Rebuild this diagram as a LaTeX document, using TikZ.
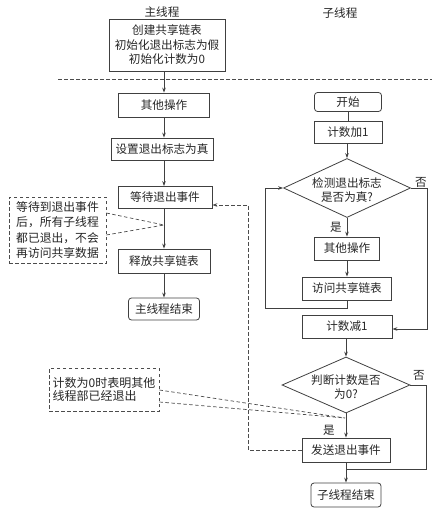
\documentclass[tikz,border=0pt]{standalone}
\usepackage{fontspec}
\setmainfont{Noto Sans CJK SC}
\usetikzlibrary{shapes.geometric,arrows.meta}
\newcommand{\lowertext}[1]{\raisebox{-6.5pt}[0pt][0pt]{\begin{tabular}{@{}c@{}}#1\end{tabular}}}
\begin{document}
\begin{tikzpicture}[x=1pt,y=-1pt,
  every node/.style={font=\fontsize{11.6pt}{14.5pt}\selectfont, text=black!85},
  box/.style={draw=black!75, line width=0.8pt, inner sep=0pt, align=center},
  rbox/.style={box, rounded corners=3pt},
  dia/.style={draw=black!75, line width=0.8pt, diamond, inner sep=0pt, aspect=2.15},
  note/.style={draw=black!70, dashed, line width=0.7pt, inner sep=0pt, dash pattern=on 3.5pt off 2.5pt},
  flow/.style={draw=black!75, line width=0.8pt},
  arr/.style={flow, -{Stealth[length=5pt,width=3.6pt]}},
  dline/.style={draw=black!70, line width=0.7pt, dash pattern=on 3.5pt off 2.5pt},
  lbl/.style={inner sep=0pt},
]
\useasboundingbox (0,0) rectangle (438,513);

% titles
\node[lbl] (t1) at (162,12) {主线程};
\node[lbl] (t2) at (340,13) {子线程};

% main thread
\node[box, minimum width=116pt, minimum height=52pt] (init) at (167,45)
  {创建共享链表\\初始化退出标志为假\\初始化计数为0};
\draw[dline] (58,79) -- (432,79);

\node[box, minimum width=91pt, minimum height=24pt] (other1) at (164,105) {其他操作};
\node[box, minimum width=102pt, minimum height=22pt] (setflag) at (162,149) {设置退出标志为真};
\node[box, minimum width=94pt, minimum height=22pt] (wait) at (165,197.5) {等待退出事件};
\node[box, minimum width=92pt, minimum height=24pt] (release) at (164,261) {释放共享链表};
\node[rbox, minimum width=71pt, minimum height=22pt] (mainend) at (164,309) {主线程结束};

\draw[arr] (init.south -| other1.north) -- (other1.north);
\draw[arr] (other1.south) -- (other1.south |- setflag.north);
\draw[arr] (other1.south |- setflag.south) -- (other1.south |- wait.north);
\draw[arr] (other1.south |- wait.south) -- (other1.south |- release.north);
\draw[arr] (other1.south |- release.south) -- (other1.south |- mainend.north);

% note 1
\node[note, minimum width=97pt, minimum height=66pt, align=left,
  font=\fontsize{11.8pt}{15.5pt}\selectfont] (note1) at (57.5,230)
  {等待到退出事件\\后，所有子线程\\都已退出，不会\\再访问共享数据};
\coordinate (j1) at (164,225);
\draw[dline] ([yshift=17pt]note1.east) -- (j1);
\draw[dline] ([yshift=-5pt]note1.east) -- (j1);

% sub thread
\node[rbox, minimum width=67pt, minimum height=19pt] (start) at (348,102) {开始};
\node[box, minimum width=68pt, minimum height=22pt] (inc) at (348,132) {计数加1};
\node[dia, minimum width=127pt, minimum height=59pt] (dia1) at (347,188) {\lowertext{检测退出标志\\是否为真?}};
\node[box, minimum width=65pt, minimum height=23pt] (other2) at (347,248.5) {其他操作};
\node[box, minimum width=89pt, minimum height=23pt] (access) at (347,288.5) {访问共享链表};
\node[box, minimum width=90pt, minimum height=23pt] (dec) at (347,326.5) {计数减1};
\node[dia, minimum width=128pt, minimum height=56pt] (dia2) at (346,385) {\lowertext{判断计数是否\\为0?}};
\node[box, minimum width=88pt, minimum height=24pt] (send) at (346,450) {发送退出事件};
\node[rbox, minimum width=70pt, minimum height=24pt] (subend) at (346,495) {子线程结束};

\draw[flow] (start.south -| inc.north) -- (inc.north);
\draw[arr] (inc.south -| dia1.north) -- (dia1.north);
\draw[arr] (dia1.south) -- (other2.north);
\draw[arr] (other2.south) -- (access.north);
\coordinate (lp1) at (265,308);
\draw[arr] (access.south) |- (lp1) |- (dia1.west);
\coordinate (rp1) at (427,188);
\draw[arr] (dia1.east) -- (rp1) |- ([yshift=-2.5pt]dec.east);
\draw[arr] (dec.south -| dia2.north) -- (dia2.north);
\draw[arr] (dia2.south) -- (send.north);
\coordinate (rp2) at (426,469);
\draw[flow] (dia2.east) -| (rp2) -- (send.south |- rp2);
\draw[arr] (send.south) -- (subend.north);

\node[lbl] (no1) at (421,182) {否};
\node[lbl] (yes1) at (336,227) {是};
\node[lbl] (no2) at (419,375) {否};
\node[lbl] (yes2) at (329,430) {是};

% dashed event signal
\coordinate (dv1) at (248,205);
\draw[dline, -{Stealth[length=5pt,width=3.6pt]}] (send.west) -| (dv1) -- (wait.east |- dv1);

% note 2
\node[note, minimum width=110pt, minimum height=43pt, align=left,
  font=\fontsize{12pt}{13.5pt}\selectfont] (note2) at (104,389.5)
  {计数为0时表明其他\\线程部已经退出};
\coordinate (j2) at (345,418);
\draw[dline] ([yshift=-0.5pt]note2.east) -- (j2);
\draw[dline] ([yshift=-12.5pt]note2.east) -- (j2);
\end{tikzpicture}
\end{document}
